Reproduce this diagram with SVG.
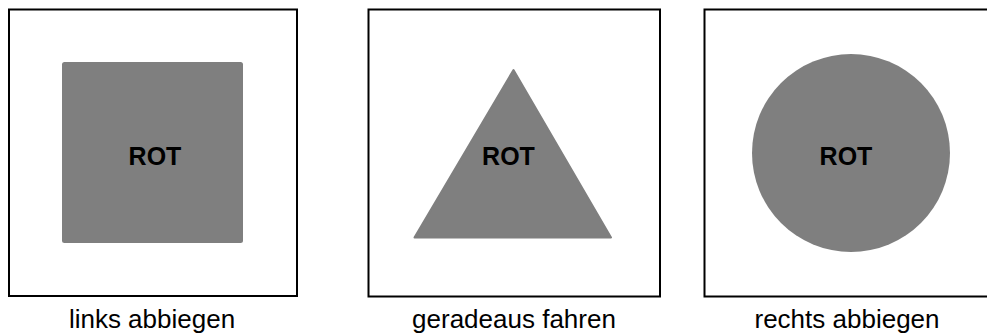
<svg xmlns="http://www.w3.org/2000/svg" width="987" height="336" viewBox="0 0 987 336">
<style>
.frame{fill:#fff;stroke:#000;stroke-width:2}
.shape{fill:#7f7f7f}
.rot{font-family:"Liberation Sans",Arial,sans-serif;font-weight:bold;font-size:25px;fill:#000;text-anchor:middle}
.lbl{font-family:"Liberation Sans",Arial,sans-serif;font-size:26px;fill:#000;text-anchor:middle}
</style>
<rect width="987" height="336" fill="#fff"/>
<g id="links">
<rect class="frame" x="9" y="9.5" width="288" height="286.5"/>
<rect class="shape" x="62" y="62" width="181" height="181" rx="2.5"/>
<text class="rot" x="155" y="165">ROT</text>
<text class="lbl" x="152" y="328">links abbiegen</text>
</g>
<g id="geradeaus">
<rect class="frame" x="368.5" y="9.5" width="291.5" height="287"/>
<polygon class="shape" points="513.5,70 611,237.5 414.5,237.5" stroke="#7f7f7f" stroke-width="2" stroke-linejoin="round"/>
<text class="rot" x="508.5" y="165">ROT</text>
<text class="lbl" x="514" y="328">geradeaus fahren</text>
</g>
<g id="rechts">
<rect class="frame" x="704.5" y="9.5" width="300" height="287"/>
<circle class="shape" cx="851" cy="153" r="99"/>
<text class="rot" x="846" y="165">ROT</text>
<text class="lbl" x="847" y="328">rechts abbiegen</text>
</g>
<g id="connectors"/>
</svg>
